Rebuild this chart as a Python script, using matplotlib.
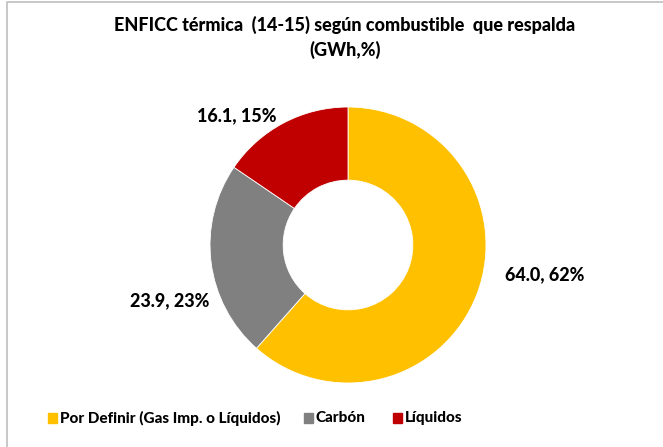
import matplotlib
matplotlib.use("Agg")
import matplotlib.pyplot as plt
from matplotlib.patches import Rectangle

plt.rcParams['font.family'] = ['Lato', 'DejaVu Sans']

categorias = ["Por Definir (Gas Imp. o Líquidos)", "Carbón", "Líquidos"]
valores = [64.0, 23.9, 16.1]
porcentajes = [62, 23, 15]
colores = ["#FFC000", "#808080", "#C00000"]

W, H = 663, 447
fig = plt.figure(figsize=(W / 100, H / 100), dpi=100)
ax = fig.add_axes([0, 0, 1, 1])

# marco del grafico
ax.plot([7, 7, W + 5], [-5, H - 2, H - 2], color="#BFBFBF", lw=1.2)

cx, cy, r = 348, H - 245, 138
ax.pie(valores, colors=colores, startangle=90, counterclock=False,
       center=(cx, cy), radius=r, frame=True,
       wedgeprops=dict(width=r * 0.53, edgecolor="white", linewidth=0.6))
ax.set_xlim(0, W)
ax.set_ylim(0, H)
ax.set_aspect("equal")
ax.axis("off")

negrita = 900
etiquetas = [f"{v:.1f}, {p}%" for v, p in zip(valores, porcentajes)]
pos = [(545, 275), (170, 301), (237, 116)]
for (x, y), t in zip(pos, etiquetas):
    ax.text(x, H - y, t, ha="center", va="center", fontsize=13, fontweight=negrita)

ax.text(345, H - 25, "ENFICC térmica  (14-15) según combustible  que respalda",
        ha="center", va="center", fontsize=13, fontweight=negrita)
ax.text(345, H - 50, "(GWh,%)", ha="center", va="center", fontsize=13, fontweight=negrita)

# leyenda
xs = [48, 304, 393]
for x, c, nombre in zip(xs, colores, categorias):
    ax.add_patch(Rectangle((x, H - 423), 9, 10, color=c))
    ax.text(x + 12, H - 418, nombre, ha="left", va="center",
            fontsize=11, fontweight=negrita)

fig.savefig("out.png", dpi=100)
